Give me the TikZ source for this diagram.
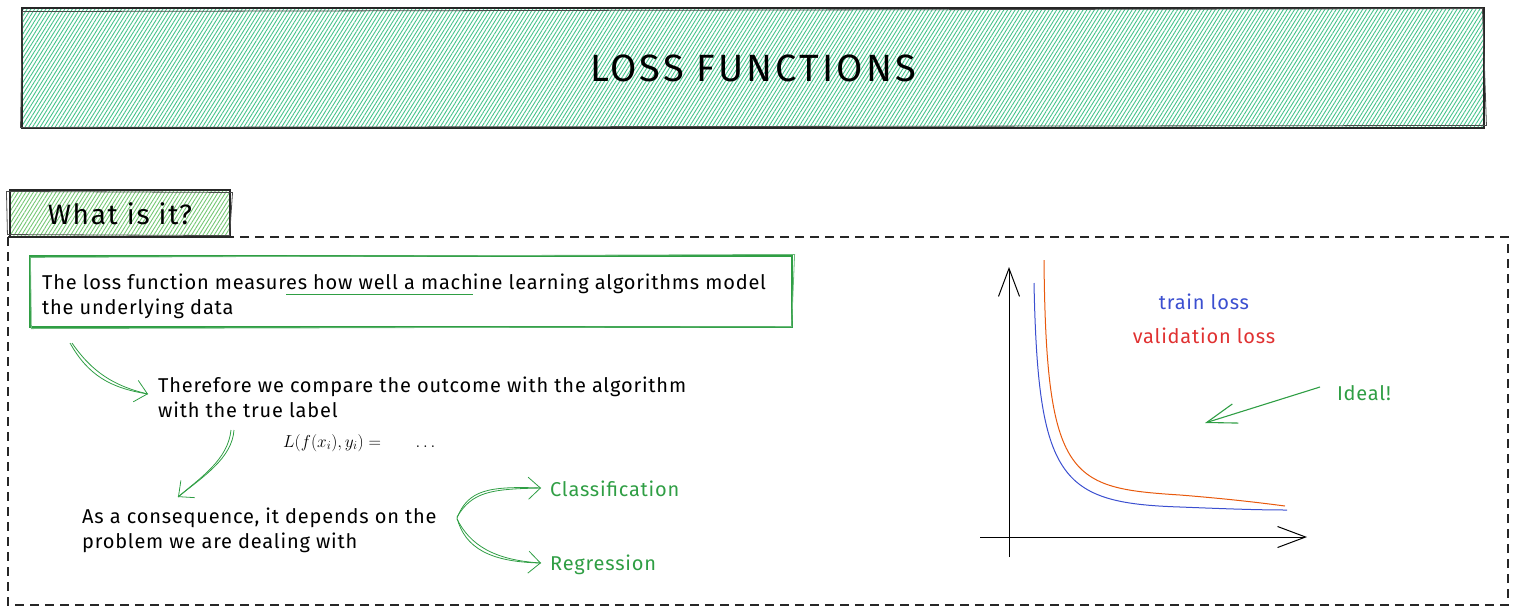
\documentclass[tikz,border=0pt]{standalone}
\usepackage{fontspec}
\setmainfont{Fira Sans}
\newfontfamily\hand{Fira Sans}[LetterSpace=4]
\newfontfamily\handt{Fira Sans}[LetterSpace=6]
\newfontfamily\handtt{Fira Sans}[LetterSpace=8]
\usetikzlibrary{patterns.meta,arrows.meta}
\definecolor{hatchA}{HTML}{45C48C}
\definecolor{hatchB}{HTML}{74C874}
\definecolor{exgreen}{HTML}{2F9E44}
\definecolor{exblue}{HTML}{3B4FD0}
\definecolor{exred}{HTML}{E03131}
\definecolor{exorange}{HTML}{E8590C}
\newcommand\gul[1]{\setbox0\hbox{#1}\rlap{\color{exgreen}\rule[-6pt]{\wd0}{1.3pt}}\box0}
\tikzset{
  sketch/.style={draw=black!85, line width=1.1pt},
  hatchbox/.style={sketch, inner sep=0, pattern={Lines[angle=58,distance=3.2pt,line width=0.9pt]}},
  rough/.style={draw=black!70, line width=0.8pt},
  body/.style={font=\hand\fontsize{20}{25}\selectfont, align=left, inner sep=0},
  gtext/.style={font=\hand\fontsize{20}{25}\selectfont, text=exgreen, inner sep=0},
  garrow/.style={draw=exgreen, line width=0.8pt},
  ghead/.style={garrow, -{Straight Barb[length=12pt,width=22pt,line width=0.8pt]}},
  axis/.style={draw=black, line width=1pt, -{Straight Barb[length=28pt,width=21pt,line width=1pt]}}
}
\begin{document}
\begin{tikzpicture}[x=1pt,y=-1pt]
\useasboundingbox (0,0) rectangle (1516,614);
% title
\node[hatchbox, pattern color=hatchA, minimum width=1462pt, minimum height=120pt,
      font=\handtt\fontsize{38}{42}\selectfont] (title) at (753,68) {LOSS FUNCTIONS};
\draw[rough] ([xshift=1pt,yshift=-4pt]title.north west) -- ([xshift=-2pt,yshift=-1pt]title.north east)
             -- ([xshift=2pt,yshift=3pt]title.south east) -- ([xshift=-1pt,yshift=1pt]title.south west) -- cycle;
% what is it
\node[hatchbox, pattern color=hatchB, minimum width=220pt, minimum height=47pt,
      font=\handt\fontsize{28}{32}\selectfont] (what) at (120,213.5) {What is it?};
\draw[rough] ([xshift=-3pt,yshift=-2pt]what.north west) -- ([xshift=2pt,yshift=-3pt]what.north east)
             -- ([xshift=-1pt,yshift=2pt]what.south east) -- ([xshift=-2pt,yshift=3pt]what.south west) -- cycle;
% dashed panel
\draw[black!85, line width=1.1pt, dash pattern=on 9pt off 6pt] (8,237) rectangle (1508,605);
% definition box
\node[draw=exgreen, line width=1.2pt, minimum width=762pt, minimum height=71pt, inner sep=0] (defbox) at (411,291.5) {};
\draw[exgreen!70, line width=0.8pt] ([xshift=1pt,yshift=-2pt]defbox.north west) -- ([xshift=2pt,yshift=1pt]defbox.north east)
             -- ([xshift=-1pt,yshift=1pt]defbox.south east) -- ([xshift=2pt,yshift=-1pt]defbox.south west) -- cycle;
\node[body, anchor=west] (deftext) at (42,296) {The loss function measur\gul{es how well a mach}ine learning algorithms model\\the underlying data};
% therefore
\node[body, anchor=west] (there) at (158,397) {Therefore we compare the outcome with the algorithm\\with the true label};
\node[anchor=west, inner sep=0, font=\fontsize{17.5}{20}\selectfont] (eq) at (283,443) {$L(f(x_i),y_i) = \hskip 1.7em \dots$};
\node[body, anchor=west] (conseq) at (82,530) {As a consequence, it depends on the\\problem we are dealing with};
\node[gtext, anchor=west] (cls) at (550,489) {Classification};
\node[gtext, anchor=west] (reg) at (550,565) {Regression};
% arrow coordinates
\coordinate (a1s) at (70,343);
\coordinate (a1e) at (148,394);
\coordinate (a2s) at (231,430);
\coordinate (a2e) at (178,497);
\coordinate (br) at (457,518);
\coordinate (clsend) at (541,488);
\coordinate (regend) at (541,563);
\draw[garrow] (a1s) .. controls (88,375) and (110,388) .. (a1e);
\draw[ghead] ([xshift=2pt]a1s) .. controls (92,372) and (114,386) .. (a1e);
\draw[garrow] (a2s) .. controls (228,460) and (200,478) .. (a2e);
\draw[ghead] ([xshift=3pt]a2s) .. controls (232,458) and (204,476) .. (a2e);
\draw[garrow] (br) .. controls (468,490) and (488,486) .. (clsend);
\draw[ghead] ([yshift=1pt]br) .. controls (472,492) and (490,489) .. (clsend);
\draw[garrow] (br) .. controls (465,548) and (490,562) .. (regend);
\draw[ghead] ([yshift=-1pt]br) .. controls (470,545) and (494,560) .. (regend);
% chart
\coordinate (ybot) at (1009,557);
\coordinate (ytop) at (1009,267);
\coordinate (xl) at (980,537);
\coordinate (xr) at (1307,537);
\draw[axis] (ybot) -- (ytop);
\draw[axis] (xl) -- (xr);
\draw[exblue, line width=1pt] (1034,283) .. controls (1038,480) and (1060,503) .. (1180,507) .. controls (1230,509) and (1260,510) .. (1287,510);
\draw[exorange, line width=1pt] (1044,260) .. controls (1046,480) and (1070,488) .. (1180,495) .. controls (1230,499) and (1262,503) .. (1285,506);
\node[font=\hand\fontsize{20}{22}\selectfont, text=exblue, inner sep=0] (train) at (1204,302) {train loss};
\node[font=\hand\fontsize{20}{22}\selectfont, text=exred, inner sep=0] (val) at (1204,336) {validation loss};
\node[gtext] (ideal) at (1364,393) {Ideal!};
\coordinate (idealtip) at (1205,423);
\draw[garrow, line width=1.1pt, -{Straight Barb[length=30pt,width=20pt,line width=1.1pt]}] ([xshift=-44pt,yshift=6pt]ideal.center) -- (idealtip);
\end{tikzpicture}
\end{document}
